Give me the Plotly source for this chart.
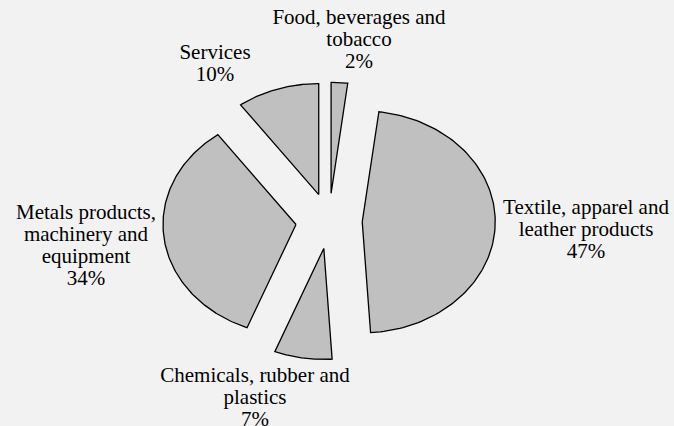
import numpy as np
import plotly.graph_objects as go

# sector shares (%), clockwise from 12 o'clock
categories = [
    "Food, beverages and tobacco",
    "Textile, apparel and leather products",
    "Chemicals, rubber and plastics",
    "Metals products, machinery and equipment",
    "Services",
]
shares = [2, 47, 7, 34, 10]
label_lines = [
    ["Food, beverages and", "tobacco"],
    ["Textile, apparel and", "leather products"],
    ["Chemicals, rubber and", "plastics"],
    ["Metals products,", "machinery and", "equipment"],
    ["Services"],
]

W, H = 674, 426
CX, CY = 329, 221        # pie centre in px
RX, RY = 133, 111        # pie radii in px (chart is slightly squashed)
PULL = 0.25
FILL = "#C0C0C0"
BG = "#F2F2F2"
FONT = "Times New Roman, Liberation Serif, serif"

# label centre (px) per slice: x, y of first line
label_pos = [(359, 19), (586, 209), (255, 377), (86, 214), (215, 54)]
LINE_H = 22

fig = go.Figure()

total = sum(shares)
start = 0.0
for name, val in zip(categories, shares):
    a0 = start / total * 2 * np.pi
    a1 = (start + val) / total * 2 * np.pi
    mid = (a0 + a1) / 2
    ox, oy = PULL * np.sin(mid), PULL * np.cos(mid)
    t = np.linspace(a0, a1, 120)
    xs = np.concatenate([[ox], ox + np.sin(t), [ox]])
    ys = np.concatenate([[oy], oy + np.cos(t), [oy]])
    fig.add_trace(go.Scatter(
        x=xs, y=ys, mode="lines", fill="toself", fillcolor=FILL,
        line=dict(color="black", width=1.3),
        name=name, hoverinfo="text", text=f"{name}: {val}%",
        showlegend=False,
    ))
    start += val

# labels: one text mark per line so the line spacing can be kept tight
lx, ly, lt = [], [], []
for lines, val, (px, py) in zip(label_lines, shares, label_pos):
    for i, txt in enumerate(lines + [f"{val}%"]):
        lx.append((px - CX) / RX)
        ly.append((CY - (py + i * LINE_H)) / RY)
        lt.append(txt)
fig.add_trace(go.Scatter(
    x=lx, y=ly, text=lt, mode="text", textposition="middle center",
    textfont=dict(family=FONT, size=21, color="black"),
    hoverinfo="skip", showlegend=False, cliponaxis=False,
))

fig.update_layout(
    width=W, height=H,
    margin=dict(l=0, r=0, t=0, b=0),
    paper_bgcolor=BG, plot_bgcolor=BG,
    font=dict(family=FONT),
    xaxis=dict(range=[-CX / RX, (W - CX) / RX], visible=False, fixedrange=True),
    yaxis=dict(range=[-(H - CY) / RY, CY / RY], visible=False, fixedrange=True),
    showlegend=False,
)

fig.write_html("out.html", config={"displayModeBar": False},
               post_script="document.body.style.margin='0';")
